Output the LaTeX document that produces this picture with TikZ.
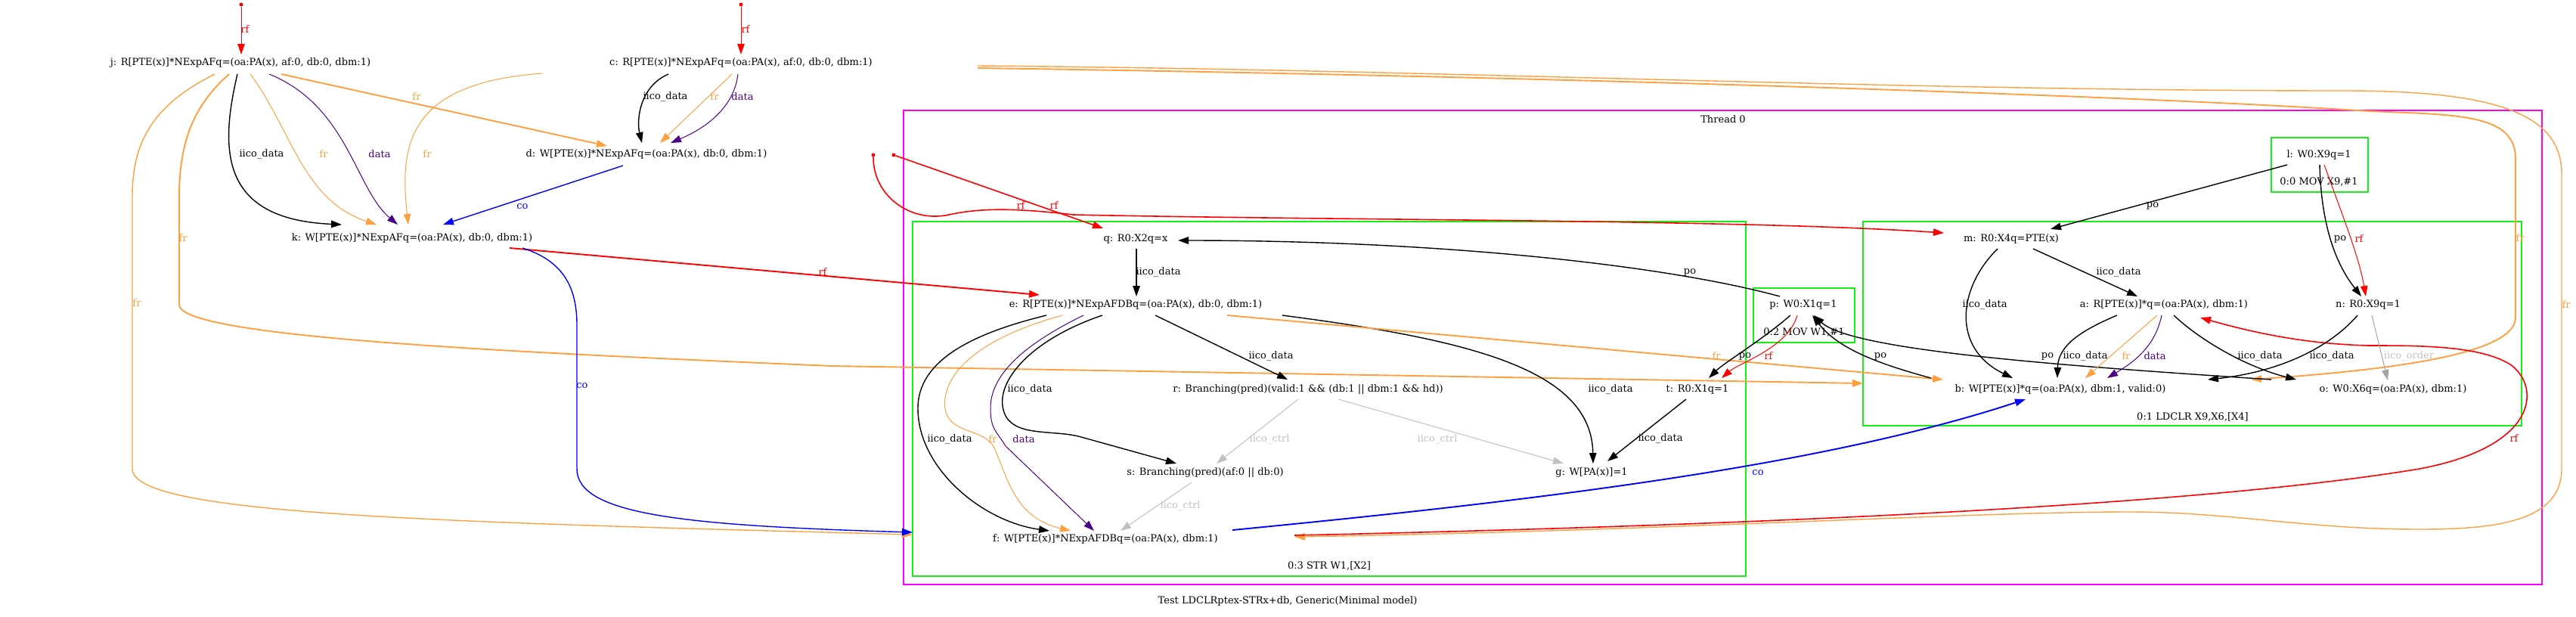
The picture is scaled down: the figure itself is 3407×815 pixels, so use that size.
\documentclass[tikz,border=0pt]{standalone}
\usepackage{fontspec}
\setmainfont{DejaVu Serif}
\usetikzlibrary{arrows.meta,calc}
\definecolor{gvorange}{RGB}{255,160,64}
\definecolor{gvpurple}{RGB}{75,0,130}
\definecolor{gvgreen}{RGB}{20,240,20}
\definecolor{gvmag}{RGB}{255,0,255}
\definecolor{gvctrl}{RGB}{192,192,192}
\definecolor{gvorder}{RGB}{165,165,165}
\newcommand\gvfont{\fontsize{13}{15}\selectfont}
\begin{document}
\begin{tikzpicture}[x=1pt,y=-1pt,
  >={Triangle[length=14pt,width=9.5pt]},
  nd/.style={font=\gvfont, inner sep=0pt},
  lb/.style={font=\gvfont, inner sep=0pt},
  ed/.style={->, line width=1.4pt},
  thinline/.style={line width=1pt},
  thickline/.style={line width=1.9pt},
  cl/.style={draw=gvgreen, line width=1.7pt, inner sep=0pt, outer sep=0pt},
  initdot/.style={circle, fill=red, inner sep=0pt, minimum size=5pt},
  orng/.style={color=gvorange},
  purp/.style={color=gvpurple},
  ctrl/.style={color=gvctrl},
]
\useasboundingbox (0,0) rectangle (3407,815);

% clusters
\node[draw=gvmag, line width=1.3pt, inner sep=0pt, minimum width=2167pt, minimum height=627pt] (thr) at (2278.5,459.5) {};
\node[cl, minimum width=1102pt, minimum height=469pt] (str) at (1758,527.5) {};
\node[cl, minimum width=871pt, minimum height=270pt] (ldclr) at (2899.5,428) {};
\node[cl, minimum width=134pt, minimum height=72pt] (pbox) at (2386,417) {};
\node[cl, minimum width=128pt, minimum height=72pt] (lbox) at (3068,218) {};
\node[lb] (thrlab) at (2279,158) {Thread 0};
\node[lb] (strlab) at (1758,748) {0:3 STR W1,[X2]};
\node[lb] (ldclrlab) at (2900,551) {0:1 LDCLR X9,X6,[X4]};
\node[lb] (plab) at (2386,440) {0:2 MOV W1,\#1};
\node[lb] (llab) at (3067,241) {0:0 MOV X9,\#1};
\node[lb] (caption) at (1703,795) {Test LDCLRptex-STRx+db, Generic(Minimal model)};

% nodes
\node[nd] (j) at (318,83) {j: R[PTE(x)]*NExpAFq=(oa:PA(x), af:0, db:0, dbm:1)};
\node[nd] (c) at (980,83) {c: R[PTE(x)]*NExpAFq=(oa:PA(x), af:0, db:0, dbm:1)};
\node[nd] (d) at (855,204) {d: W[PTE(x)]*NExpAFq=(oa:PA(x), db:0, dbm:1)};
\node[nd] (k) at (545,315) {k: W[PTE(x)]*NExpAFq=(oa:PA(x), db:0, dbm:1)};
\node[nd] (q) at (1502,316) {q: R0:X2q=x};
\node[nd] (e) at (1502,403) {e: R[PTE(x)]*NExpAFDBq=(oa:PA(x), db:0, dbm:1)};
\node[nd] (r) at (1730,515) {r: Branching(pred)(valid:1 \&\& (db:1 \textbar\textbar{} dbm:1 \&\& hd))};
\node[nd] (s) at (1594,625) {s: Branching(pred)(af:0 \textbar\textbar{} db:0)};
\node[nd] (g) at (2105,625) {g: W[PA(x)]=1};
\node[nd] (f) at (1462,713) {f: W[PTE(x)]*NExpAFDBq=(oa:PA(x), dbm:1)};
\node[nd] (t) at (2245,515) {t: R0:X1q=1};
\node[nd] (p) at (2385,403) {p: W0:X1q=1};
\node[nd] (l) at (3067,205) {l: W0:X9q=1};
\node[nd] (m) at (2660,316) {m: R0:X4q=PTE(x)};
\node[nd] (a) at (2862,403) {a: R[PTE(x)]*q=(oa:PA(x), dbm:1)};
\node[nd] (n) at (3132,403) {n: R0:X9q=1};
\node[nd] (b) at (2725,515) {b: W[PTE(x)]*q=(oa:PA(x), dbm:1, valid:0)};
\node[nd] (o) at (3165,515) {o: W0:X6q=(oa:PA(x), dbm:1)};

\node[initdot] (ij) at (319,6) {};
\node[initdot] (ic) at (980,6) {};
\node[initdot] (im) at (1155,205) {};
\node[initdot] (iq) at (1182,205) {};

% init rf edges
\draw[ed, red, line width=1pt] (ij) -- ($(j)+(1,-11)$);
\draw[ed, red, line width=1pt] (ic) -- ($(c)+(0,-11)$);
\draw[ed, red, line width=1.6pt] (im) .. controls (1155,260) and (1205,295) .. (1255,284) .. controls (1300,274) and (1350,276) .. (1420,284) .. controls (1800,292) and (2300,290) .. ($(m)+(-89,-8)$);
\draw[ed, red, line width=1.6pt] (iq) -- ($(q)+(-43,-14)$);

% j edges
\draw[ed] ($(j)+(-4,15)$) .. controls (290,200) and (292,290) .. ($(k)+(-93,-18)$);
\draw[ed, orng, thinline] ($(j)+(13,15)$) .. controls (385,170) and (400,265) .. ($(k)+(-47,-18)$);
\draw[ed, purp, thinline] ($(j)+(38,15)$) .. controls (460,140) and (470,250) .. ($(k)+(-19,-18)$);
\draw[ed, orng, thickline] ($(j)+(54,15)$) -- ($(d)+(-52,-11)$);
\draw[ed, orng] ($(j)+(-34,15)$) .. controls (200,140) and (175,190) .. (175,260) -- (175,620) .. controls (175,680) and (560,690) .. ($(str.west)+(0,179.5)$);
\draw[ed, orng, thickline] ($(j)+(-15,15)$) .. controls (255,140) and (237,190) .. (237,260) -- (237,403) .. controls (237,445) and (650,465) .. (1100,484) -- ($(ldclr.west)+(0,79)$);

% c edges
\draw[ed, orng, thinline] ($(c)+(-263,14)$) .. controls (540,110) and (528,190) .. ($(k)+(-5,-18)$);
\draw[ed] ($(c)+(-96,15)$) .. controls (845,115) and (842,160) .. ($(d)+(-6,-15)$);
\draw[ed, orng, thinline] ($(c)+(-12,15)$) -- ($(d)+(18,-15)$);
\draw[ed, purp, thinline] ($(c)+(-4,15)$) .. controls (970,150) and (920,175) .. ($(d)+(32,-15)$);
\draw[ed, orng, thickline] ($(c)+(313,7)$) .. controls (2000,100) and (2800,125) .. (3133,147) .. controls (3250,152) and (3327,150) .. (3327,210) -- (3327,420) .. controls (3327,470) and (3150,490) .. ($(b)+(252,-13)$);
\draw[ed, orng] ($(c)+(313,4)$) .. controls (1900,92) and (2500,120) .. (3100,120) .. controls (3300,120) and (3388,150) .. (3388,230) -- (3388,620) .. controls (3388,690) and (3300,700) .. (3200,700) .. controls (3050,700) and (2950,677) .. (2816,677) .. controls (2600,677) and (2200,702) .. ($(f)+(250,-3)$);

% d, k edges
\draw[ed, blue] ($(d)+(-31,15)$) -- ($(k)+(41,-18)$);
\draw[ed, red, thickline] ($(k)+(129,13)$) -- ($(e)+(-127,-13)$);
\draw[ed, blue] ($(k)+(146,13)$) .. controls (745,345) and (763,380) .. (763,430) -- (763,620) .. controls (763,680) and (900,695) .. ($(str.west)+(0,176.5)$);

% STR cluster edges
\draw[ed] ($(q)+(1,13)$) -- ($(e)+(1,-11)$);
\draw[ed] ($(p)+(-31,-11)$) .. controls (2200,350) and (1900,318) .. ($(q)+(56,2)$);
\draw[ed] ($(e)+(26,14)$) -- ($(r)+(-27,-13)$);
\draw[ed] ($(e)+(-44,14)$) .. controls (1360,450) and (1310,510) .. (1330,550) .. controls (1345,578) and (1395,568) .. (1430,578) -- ($(s)+(-38,-12)$);
\draw[ed] ($(e)+(-118,14)$) .. controls (1290,440) and (1214,475) .. (1214,540) .. controls (1214,620) and (1300,690) .. ($(f)+(-74,-11)$);
\draw[ed, orng, thinline] ($(e)+(-97,14)$) .. controls (1285,450) and (1245,500) .. (1250,540) .. controls (1255,575) and (1300,565) .. (1315,592) .. controls (1335,640) and (1345,685) .. ($(f)+(-46,-11)$);
\draw[ed, purp, thinline] ($(e)+(-69,14)$) .. controls (1345,460) and (1310,500) .. (1310,540) .. controls (1310,568) and (1318,570) .. (1330,590) -- ($(f)+(-15,-11)$);
\draw[ed] ($(e)+(194,14)$) .. controls (1950,450) and (2105,490) .. ($(g)+(2,-12)$);
\draw[ed, ctrl, thinline] ($(r)+(-13,13)$) -- ($(s)+(15,-12)$);
\draw[ed, ctrl, thinline] ($(r)+(40,13)$) -- ($(g)+(-37,-12)$);
\draw[ed, ctrl, thinline] ($(s)+(-18,13)$) -- ($(f)+(20,-11)$);
\draw[ed, orng, thickline] ($(e)+(121,14)$) -- ($(b)+(-155,-13)$);
\draw[ed, blue, thickline] ($(f)+(168,-12)$) .. controls (2000,665) and (2400,620) .. ($(b)+(-46,13)$);
\draw[ed] ($(t)+(-15,13)$) -- ($(g)+(21,-15)$);
\draw[ed, red, line width=1.6pt] ($(f)+(250,-5)$) .. controls (2300,695) and (2900,670) .. (3200,620) .. controls (3360,590) and (3360,510) .. (3320,482) .. controls (3280,457) and (3200,457) .. (3133,457) .. controls (3050,455) and (2980,440) .. ($(a)+(48,17)$);

% p edges
\draw[ed] ($(p)+(-17,14)$) .. controls (2330,450) and (2280,480) .. ($(t)+(15,-15)$);
\draw[ed, red, thinline] ($(p)+(-8,14)$) .. controls (2365,460) and (2300,480) .. ($(t)+(32,-15)$);
\draw[ed] ($(b)+(-171,-15)$) .. controls (2480,480) and (2430,460) .. ($(p)+(12,14)$);
\draw[ed] ($(o)+(-161,-13)$) .. controls (2750,485) and (2450,465) .. ($(p)+(14,14)$);

% LDCLR edges
\draw[ed] ($(l)+(-42,13)$) -- ($(m)+(52,-13)$);
\draw[ed] ($(l)+(1,13)$) .. controls (3070,300) and (3090,350) .. ($(n)+(-9,-11)$);
\draw[ed, red, thinline] ($(l)+(7,13)$) .. controls (3100,290) and (3120,340) .. ($(n)+(-3,-11)$);
\draw[ed] ($(m)+(29,13)$) -- ($(a)+(-35,-11)$);
\draw[ed] ($(m)+(-18,13)$) .. controls (2590,380) and (2580,460) .. ($(b)+(-63,-15)$);
\draw[ed] ($(a)+(-62,14)$) .. controls (2745,440) and (2722,460) .. ($(b)+(-4,-15)$);
\draw[ed, orng, thinline] ($(a)+(-9,14)$) -- ($(b)+(33,-15)$);
\draw[ed, purp, thinline] ($(a)+(-3,14)$) .. controls (2850,460) and (2820,480) .. ($(b)+(62,-15)$);
\draw[ed] ($(a)+(13,14)$) .. controls (2910,450) and (2970,485) .. ($(o)+(-128,-13)$);
\draw[ed] ($(n)+(-14,14)$) .. controls (3090,450) and (3030,490) .. ($(b)+(195,-13)$);
\draw[ed, gvorder, thinline] ($(n)+(5,14)$) -- ($(o)+(-7,-12)$);

% labels
\node[lb, red] (L1) at (324,39) {rf};
\node[lb, red] (L2) at (986,39) {rf};
\node[lb] (L3) at (346,204) {iico\_data};
\node[lb, orng] (L4) at (428,204) {fr};
\node[lb, purp] (L5) at (502,204) {data};
\node[lb, orng] (L6) at (565,204) {fr};
\node[lb, orng] (L7) at (551,128) {fr};
\node[lb] (L8) at (880,128) {iico\_data};
\node[lb, orng] (L9) at (945,128) {fr};
\node[lb, purp] (L10) at (982,128) {data};
\node[lb, blue] (L11) at (691,273) {co};
\node[lb, orng] (L12) at (242,315) {fr};
\node[lb, orng] (L13) at (181,401) {fr};
\node[lb, blue] (L14) at (770,510) {co};
\node[lb, red] (L15) at (1088,360) {rf};
\node[lb, red] (L16) at (1350,272) {rf};
\node[lb, red] (L17) at (1394,272) {rf};
\node[lb] (L18) at (1532,360) {iico\_data};
\node[lb] (L19) at (2235,360) {po};
\node[lb] (L20) at (1681,471) {iico\_data};
\node[lb] (L21) at (1362,515) {iico\_data};
\node[lb] (L22) at (2130,515) {iico\_data};
\node[lb] (L23) at (1256,581) {iico\_data};
\node[lb, orng] (L24) at (1313,581) {fr};
\node[lb, purp] (L25) at (1354,581) {data};
\node[lb, ctrl] (L26) at (1679,581) {iico\_ctrl};
\node[lb, ctrl] (L27) at (1901,581) {iico\_ctrl};
\node[lb, ctrl] (L28) at (1561,669) {iico\_ctrl};
\node[lb] (L29) at (2196,580) {iico\_data};
\node[lb, orng] (L30) at (2270,471) {fr};
\node[lb] (L31) at (2308,471) {po};
\node[lb, red] (L32) at (2339,471) {rf};
\node[lb] (L33) at (2487,471) {po};
\node[lb] (L34) at (2708,471) {po};
\node[lb, blue] (L35) at (2325,625) {co};
\node[lb] (L36) at (2847,272) {po};
\node[lb] (L37) at (3095,316) {po};
\node[lb, red] (L38) at (3120,316) {rf};
\node[lb] (L39) at (2802,360) {iico\_data};
\node[lb] (L40) at (2625,403) {iico\_data};
\node[lb] (L41) at (2758,471) {iico\_data};
\node[lb, orng] (L42) at (2812,471) {fr};
\node[lb, purp] (L43) at (2850,471) {data};
\node[lb] (L44) at (2989,471) {iico\_data};
\node[lb] (L45) at (3084,471) {iico\_data};
\node[lb, ctrl] (L46) at (3186,471) {iico\_order};
\node[lb, orng] (L47) at (3333,315) {fr};
\node[lb, orng] (L48) at (3394,403) {fr};
\node[lb, red] (L49) at (3325,580) {rf};
\end{tikzpicture}
\end{document}
